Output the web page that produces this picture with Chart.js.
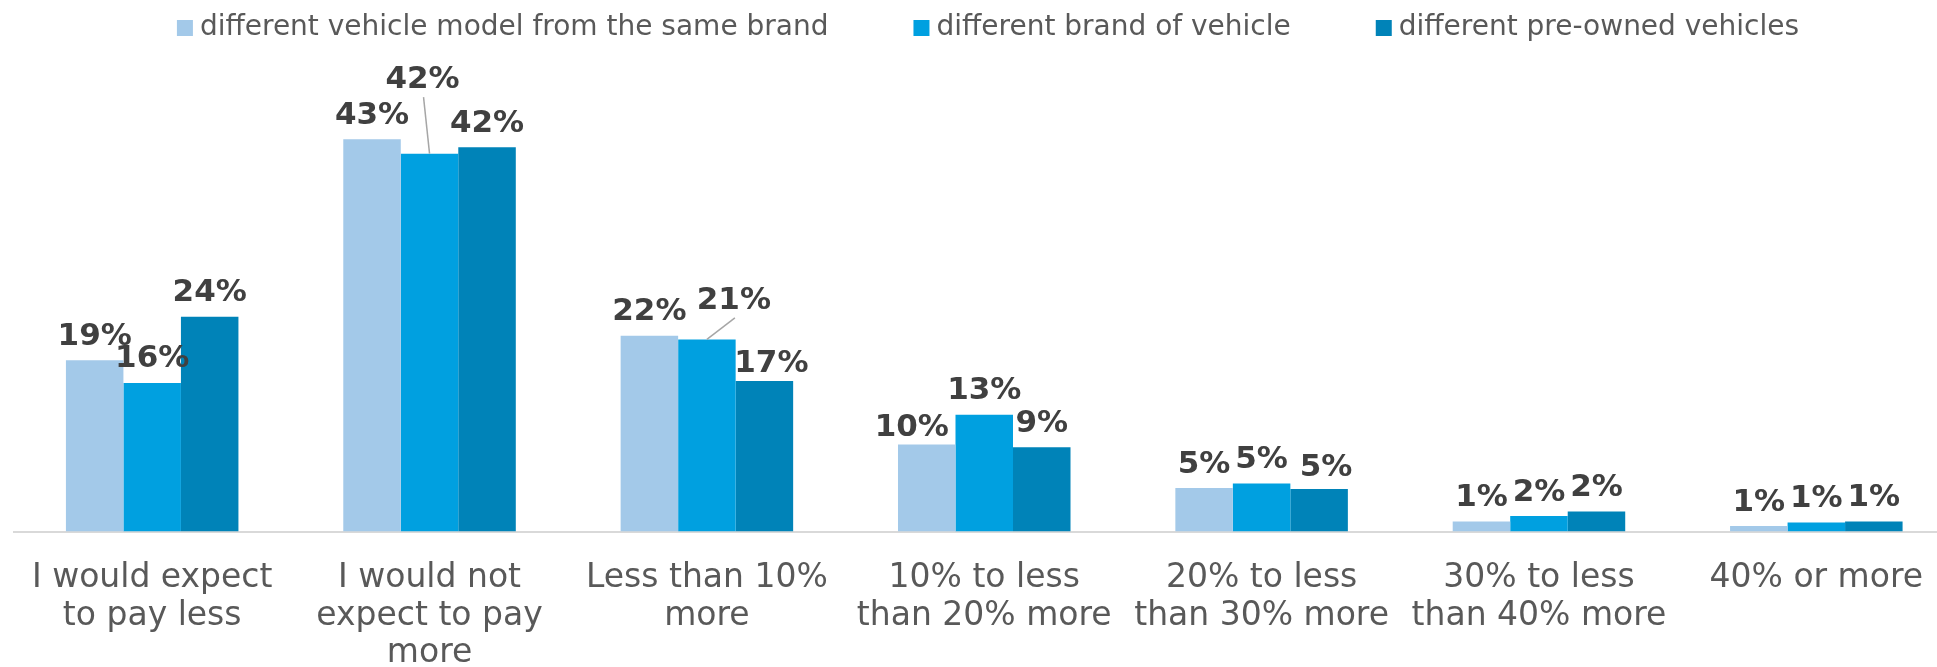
<!DOCTYPE html>
<html>
<head>
<meta charset="utf-8">
<script src="https://cdn.jsdelivr.net/npm/chart.js@4.4.1/dist/chart.umd.min.js"></script>
<style>
  html, body { margin: 0; padding: 0; background: #fff; overflow: hidden; }
  #wrap { width: 1955px; height: 667px; }
</style>
</head>
<body>
<div id="wrap"><canvas id="grafico"></canvas></div>
<script>
const categorias = [
  ['I would expect', 'to pay less'],
  ['I would not', 'expect to pay', 'more'],
  ['Less than 10%', 'more'],
  ['10% to less', 'than 20% more'],
  ['20% to less', 'than 30% more'],
  ['30% to less', 'than 40% more'],
  ['40% or more']
];
const series = [
  'different vehicle model from the same brand',
  'different brand of vehicle',
  'different pre-owned vehicles'
];
const mesmaMarca = [18.9, 43.3, 21.6, 9.6, 4.8, 1.1, 0.6];
const outraMarca = [16.4, 41.7, 21.2, 12.9, 5.3, 1.7, 1.0];
const seminovos  = [23.7, 42.4, 16.6, 9.3, 4.7, 2.2, 1.1];
const cores = ['#a3c9e9', '#00a0e0', '#0083b8'];

// deslocamento manual de alguns rótulos (dx, dy, linha guia)
const ajustes = [
  { 3: [-15, 7] },
  { 1: [-7, -50, true], 2: [27, -15, true] },
  { 2: [7, 6], 4: [7, 3] }
];

const rotulosPlugin = {
  id: 'rotulos',
  afterDatasetsDraw(chart) {
    const ctx = chart.ctx;
    ctx.save();
    ctx.font = 'bold 31px "DejaVu Sans"';
    ctx.fillStyle = '#404040';
    ctx.textAlign = 'center';
    ctx.textBaseline = 'alphabetic';
    chart.data.datasets.forEach((ds, i) => {
      chart.getDatasetMeta(i).data.forEach((bar, j) => {
        const aj = ajustes[i][j] || [0, 0, false];
        const x = bar.x + aj[0];
        const y = bar.y - 15.5 + aj[1];
        if (aj[2]) {
          ctx.strokeStyle = '#a6a6a6';
          ctx.lineWidth = 1.5;
          ctx.beginPath();
          ctx.moveTo(x + 1, y + 9);
          ctx.lineTo(bar.x, bar.y);
          ctx.stroke();
        }
        ctx.fillText(Math.round(ds.data[j]) + '%', x, y);
      });
    });
    ctx.restore();
  }
};

const legendaPlugin = {
  id: 'legenda',
  afterDraw(chart) {
    const ctx = chart.ctx;
    ctx.save();
    ctx.font = '28px "DejaVu Sans"';
    ctx.textBaseline = 'middle';
    ctx.textAlign = 'left';
    const larguras = chart.data.datasets.map(ds => 16 + 7 + ctx.measureText(ds.label).width);
    const total = larguras.reduce((a, b) => a + b, 0) + 85 * (larguras.length - 1);
    let x = 988 - total / 2;
    chart.data.datasets.forEach((ds, i) => {
      ctx.fillStyle = ds.backgroundColor;
      ctx.fillRect(x, 20, 16, 16);
      ctx.fillStyle = '#595959';
      ctx.fillText(ds.label, x + 23, 28);
      x += larguras[i] + 85;
    });
    ctx.restore();
  }
};

const ctx = document.getElementById('grafico').getContext('2d');
new Chart(ctx, {
  type: 'bar',
  data: {
    labels: categorias,
    datasets: [
      { label: series[0], data: mesmaMarca, backgroundColor: cores[0] },
      { label: series[1], data: outraMarca, backgroundColor: cores[1] },
      { label: series[2], data: seminovos, backgroundColor: cores[2] }
    ]
  },
  options: {
    responsive: true,
    maintainAspectRatio: false,
    animation: false,
    datasets: {
      bar: { categoryPercentage: 0.622, barPercentage: 1.0, borderWidth: 0 }
    },
    layout: { padding: { top: 78.5, left: 13.5, right: 0, bottom: 0 } },
    plugins: {
      legend: { display: false },
      tooltip: { enabled: false }
    },
    scales: {
      x: {
        grid: { display: false, drawTicks: false },
        border: { display: true, color: '#d9d9d9', width: 2 },
        ticks: {
          color: '#595959',
          font: { family: 'DejaVu Sans', size: 33, lineHeight: 1.14 },
          padding: 28,
          maxRotation: 0,
          autoSkip: false
        },
        afterFit: (scale) => { scale.height = 135.5; }
      },
      y: {
        display: false,
        min: 0,
        max: 50
      }
    }
  },
  plugins: [rotulosPlugin, legendaPlugin]
});
</script>
</body>
</html>
